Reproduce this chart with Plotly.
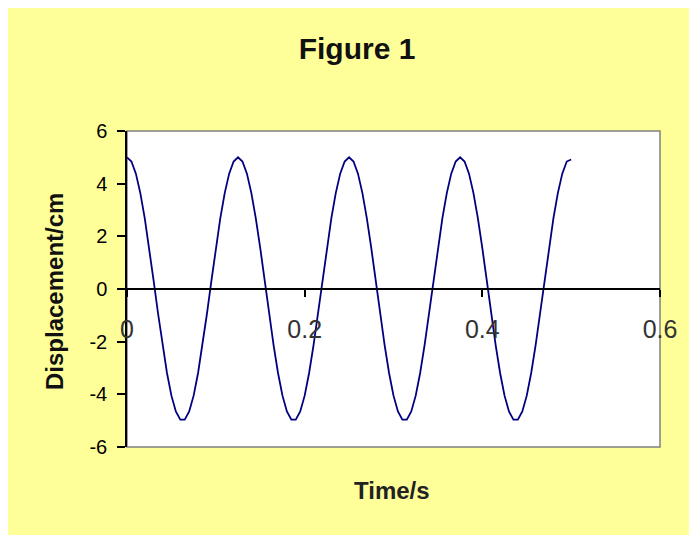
import plotly.graph_objects as go

# Time values (s), read at 0.005 s spacing
time_s = [round(i * 0.005, 3) for i in range(101)]

# Displacement values (cm)
displacement_cm = [
    5.00, 4.84, 4.38, 3.64, 2.68, 1.55, 0.31, -0.94, -2.13, -3.19, -4.05, -4.65, -4.96,
    -4.96, -4.65, -4.05, -3.19, -2.13, -0.94, 0.31, 1.55, 2.68, 3.64, 4.38, 4.84,
    5.00, 4.84, 4.38, 3.64, 2.68, 1.55, 0.31, -0.94, -2.13, -3.19, -4.05, -4.65, -4.96,
    -4.96, -4.65, -4.05, -3.19, -2.13, -0.94, 0.31, 1.55, 2.68, 3.64, 4.38, 4.84,
    5.00, 4.84, 4.38, 3.64, 2.68, 1.55, 0.31, -0.94, -2.13, -3.19, -4.05, -4.65, -4.96,
    -4.96, -4.65, -4.05, -3.19, -2.13, -0.94, 0.31, 1.55, 2.68, 3.64, 4.38, 4.84,
    5.00, 4.84, 4.38, 3.64, 2.68, 1.55, 0.31, -0.94, -2.13, -3.19, -4.05, -4.65, -4.96,
    -4.96, -4.65, -4.05, -3.19, -2.13, -0.94, 0.31, 1.55, 2.68, 3.64, 4.38, 4.84,
    4.92,
]

x_ticks = [0, 0.2, 0.4, 0.6]
x_tick_labels = ["0", "0.2", "0.4", "0.6"]
y_ticks = [-6, -4, -2, 0, 2, 4, 6]
y_tick_labels = ["-6", "-4", "-2", "0", "2", "4", "6"]

FONT = "Arial, Liberation Sans, sans-serif"
YELLOW = "#FFFF99"

fig = go.Figure()
fig.add_trace(go.Scatter(
    x=time_s, y=displacement_cm, mode="lines",
    line=dict(color="#000080", width=1.8),
    hoverinfo="skip", showlegend=False,
))

fig.update_layout(
    width=697, height=535,
    margin=dict(l=119, r=45, t=123, b=96, pad=0),
    paper_bgcolor=YELLOW,
    plot_bgcolor="white",
    title=dict(
        text="<b>Figure 1</b>",
        font=dict(family=FONT, size=30, color="#111111"),
        x=349 / 697, xanchor="center", xref="container",
        y=1 - 40 / 535, yanchor="middle", yref="container",
    ),
    xaxis=dict(
        range=[0, 0.6], tickvals=x_ticks, ticktext=x_tick_labels,
        anchor="free", position=0.5,
        showgrid=False, zeroline=False,
        showline=True, linecolor="black", linewidth=1.5,
        ticks="outside", ticklen=7, tickwidth=1.5, tickcolor="black",
        tickfont=dict(family=FONT, size=25, color="#333333"),
        ticklabelstandoff=11,
    ),
    yaxis=dict(
        range=[-6, 6], tickvals=y_ticks, ticktext=y_tick_labels,
        showgrid=False, zeroline=False,
        showline=True, linecolor="black", linewidth=1.5,
        ticks="outside", ticklen=8, tickwidth=1.5, tickcolor="black",
        tickfont=dict(family=FONT, size=20, color="black"),
        ticklabelstandoff=6,
    ),
    shapes=[
        dict(type="rect", xref="paper", yref="paper", x0=0, x1=1, y0=0, y1=1,
             line=dict(color="#808080", width=1.5), fillcolor="rgba(0,0,0,0)", layer="below"),
    ],
    annotations=[
        dict(text="<b>Displacement/cm</b>", xref="paper", yref="paper",
             x=(54 - 127) / 533, y=(447 - 292) / 316, xanchor="center", yanchor="middle",
             textangle=-90, showarrow=False,
             font=dict(family=FONT, size=24, color="#111111")),
        dict(text="<b>Time/s</b>", xref="paper", yref="paper",
             x=(392 - 127) / 533, y=(447 - 490) / 316, xanchor="center", yanchor="middle",
             showarrow=False,
             font=dict(family=FONT, size=24, color="#222222")),
    ],
)

fig.write_html("out.html")
